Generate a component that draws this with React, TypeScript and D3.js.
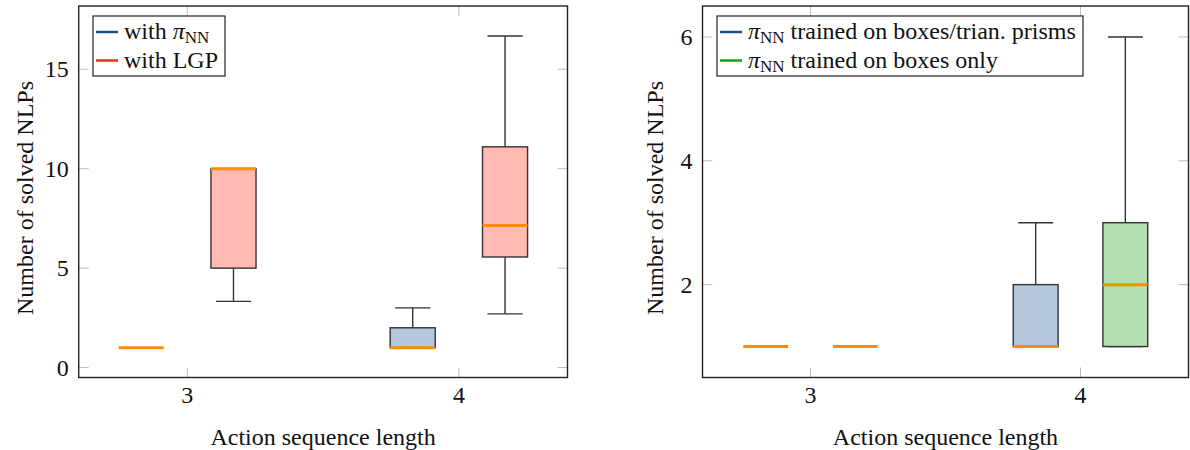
import React from "react";
import * as d3 from "d3";

// ---------- data ----------
const categories = [3, 4];
// each entry: [min, q1, median, q3, max]
const leftPiNN = [
  [1, 1, 1, 1, 1],
  [1, 1, 1, 2, 3],
];
const leftLGP = [
  [3.33, 5, 10, 10, 10],
  [2.7, 5.56, 7.14, 11.1, 16.67],
];
const rightBoxesPrisms = [
  [1, 1, 1, 1, 1],
  [1, 1, 1, 2, 3],
];
const rightBoxesOnly = [
  [1, 1, 1, 1, 1],
  [1, 1, 2, 3, 6],
];
const leftYTicks = [0, 5, 10, 15];
const rightYTicks = [2, 4, 6];
const xLabel = "Action sequence length";
const yLabel = "Number of solved NLPs";

const FONT = "'Liberation Serif', 'Times New Roman', Tinos, serif";
const FS = 24;
const MEDIAN = "#ff8c00";
const STROKE = "#333333";
const TICK = "#bdbdbd";
const TXT: React.CSSProperties = { fontFamily: FONT, fontSize: FS };

type Series = { stats: number[][]; fill: string; offset: number };

function Panel(props: {
  x0: number;
  x1: number;
  yDomain: [number, number];
  yTicks: number[];
  series: Series[];
  legend: { color: string; label: React.ReactNode }[];
  legendBox: { x: number; y: number; w: number; h: number };
  yLabelX: number;
}) {
  const top = 6;
  const bottom = 377.5;
  const x = d3.scaleLinear().domain([2.6, 4.4]).range([props.x0, props.x1]);
  const y = d3.scaleLinear().domain(props.yDomain).range([bottom, top]);
  const boxW = x(2.6 + 0.166) - x(2.6);
  const capW = boxW * 0.78;
  const tickLen = 10;
  return (
    <g>
      {props.yTicks.map((t) => (
        <g key={"yt" + t}>
          <line x1={props.x0} x2={props.x0 + tickLen} y1={y(t)} y2={y(t)} stroke={TICK} strokeWidth={1} />
          <line x1={props.x1 - tickLen} x2={props.x1} y1={y(t)} y2={y(t)} stroke={TICK} strokeWidth={1} />
          <text x={props.x0 - 10} y={y(t) + 8} textAnchor="end" style={TXT} fill="#111">
            {t}
          </text>
        </g>
      ))}
      {categories.map((c) => (
        <g key={"xt" + c}>
          <line x1={x(c)} x2={x(c)} y1={bottom} y2={bottom - tickLen} stroke={TICK} strokeWidth={1} />
          <line x1={x(c)} x2={x(c)} y1={top} y2={top + tickLen} stroke={TICK} strokeWidth={1} />
          <text x={x(c)} y={403} textAnchor="middle" style={TXT} fill="#111">
            {c}
          </text>
        </g>
      ))}
      {props.series.map((s, si) =>
        s.stats.map((st, ci) => {
          const cx = x(categories[ci] + s.offset);
          const [mn, q1, md, q3, mx] = st;
          return (
            <g key={"b" + si + "-" + ci}>
              <line x1={cx} x2={cx} y1={y(q3)} y2={y(mx)} stroke={STROKE} strokeWidth={1.4} />
              <line x1={cx} x2={cx} y1={y(q1)} y2={y(mn)} stroke={STROKE} strokeWidth={1.4} />
              <line x1={cx - capW / 2} x2={cx + capW / 2} y1={y(mx)} y2={y(mx)} stroke={STROKE} strokeWidth={1.4} />
              <line x1={cx - capW / 2} x2={cx + capW / 2} y1={y(mn)} y2={y(mn)} stroke={STROKE} strokeWidth={1.4} />
              <rect
                x={cx - boxW / 2}
                y={y(q3)}
                width={boxW}
                height={Math.max(0, y(q1) - y(q3))}
                fill={s.fill}
                stroke={STROKE}
                strokeWidth={1.4}
              />
              <line x1={cx - boxW / 2} x2={cx + boxW / 2} y1={y(md)} y2={y(md)} stroke={MEDIAN} strokeWidth={3} />
            </g>
          );
        })
      )}
      <rect x={props.x0} y={top} width={props.x1 - props.x0} height={bottom - top} fill="none" stroke="#222" strokeWidth={1.4} />
      <rect
        x={props.legendBox.x}
        y={props.legendBox.y}
        width={props.legendBox.w}
        height={props.legendBox.h}
        fill="white"
        stroke="#222"
        strokeWidth={1.2}
      />
      {props.legend.map((l, i) => {
        const ly = props.legendBox.y + 16 + i * 28.5;
        return (
          <g key={"lg" + i}>
            <line x1={props.legendBox.x + 3} x2={props.legendBox.x + 25} y1={ly} y2={ly} stroke={l.color} strokeWidth={2.5} />
            <text x={props.legendBox.x + 31} y={ly + 7} style={TXT} fill="#111">
              {l.label}
            </text>
          </g>
        );
      })}
      <text x={(props.x0 + props.x1) / 2} y={445} textAnchor="middle" style={TXT} fill="#111">
        {xLabel}
      </text>
      <text transform={`translate(${props.yLabelX},198) rotate(-90)`} textAnchor="middle" style={TXT} fill="#111">
        {yLabel}
      </text>
    </g>
  );
}

const PiNN = () => (
  <>
    <tspan fontStyle="italic">π</tspan>
    <tspan style={{ fontSize: 17 }} dy="4">NN</tspan>
    <tspan dy="-4"> </tspan>
  </>
);

export default function App() {
  return (
    <svg width={1190} height={450} style={{ position: "absolute", left: 0, top: 0, background: "white", fontFamily: FONT }}>
      <Panel
        x0={78.7}
        x1={567.5}
        yDomain={[-0.5, 18.18]}
        yTicks={leftYTicks}
        series={[
          { stats: leftPiNN, fill: "#b3c7dd", offset: -0.17 },
          { stats: leftLGP, fill: "#ffbab3", offset: 0.17 },
        ]}
        legend={[
          { color: "#1f4e8c", label: <><tspan>with </tspan><PiNN /></> },
          { color: "#ff2a1a", label: "with LGP" },
        ]}
        legendBox={{ x: 93, y: 16, w: 132, h: 60 }}
        yLabelX={33}
      />
      <Panel
        x0={702.5}
        x1={1188.5}
        yDomain={[0.5, 6.5]}
        yTicks={rightYTicks}
        series={[
          { stats: rightBoxesPrisms, fill: "#b3c7dd", offset: -0.166 },
          { stats: rightBoxesOnly, fill: "#b3e0b3", offset: 0.166 },
        ]}
        legend={[
          { color: "#1f4e8c", label: <><PiNN />trained on boxes/trian. prisms</> },
          { color: "#1a9e1a", label: <><PiNN />trained on boxes only</> },
        ]}
        legendBox={{ x: 717, y: 16, w: 366, h: 60 }}
        yLabelX={663}
      />
    </svg>
  );
}
